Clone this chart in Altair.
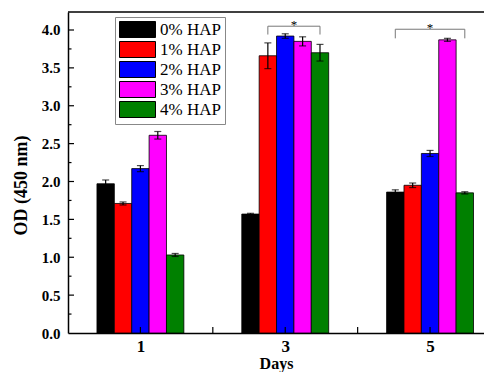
import altair as alt
import pandas as pd

# ---- data ----
days = [1, 3, 5]
groups = ["0% HAP", "1% HAP", "2% HAP", "3% HAP", "4% HAP"]
colors = ["#000000", "#ff0000", "#0000ff", "#ff00ff", "#008000"]

od_day1 = [1.97, 1.71, 2.17, 2.61, 1.03]
od_day3 = [1.57, 3.66, 3.92, 3.85, 3.70]
od_day5 = [1.86, 1.95, 2.37, 3.87, 1.85]

err_day1 = [0.05, 0.02, 0.04, 0.05, 0.02]
err_day3 = [0.01, 0.17, 0.03, 0.06, 0.11]
err_day5 = [0.03, 0.03, 0.04, 0.02, 0.015]

# significance brackets (x from bar centre to bar centre)
sig_x1 = [2.76, 4.52]
sig_x2 = [3.48, 5.48]
sig_top = [4.05, 4.01]
sig_leg = [3.94, 3.89]
sig_star = [4.145, 4.11]

y_labels = [0.0, 0.5, 1.0, 1.5, 2.0, 2.5, 3.0, 3.5, 4.0]
y_major_ticks = [0.5, 1.0, 1.5, 2.0, 2.5, 3.0, 3.5, 4.0]
y_minor_ticks = [0.25, 0.75, 1.25, 1.75, 2.25, 2.75, 3.25, 3.75]
x_ticks = [1, 2, 3, 4, 5]

BAR_W = 0.24

rows = []
for d, means, errs in zip(days, [od_day1, od_day3, od_day5], [err_day1, err_day3, err_day5]):
    for i, (g, m, e) in enumerate(zip(groups, means, errs)):
        rows.append({"day": d, "group": g, "idx": i, "od": m, "err": e})
df = pd.DataFrame(rows)

sig_df = pd.DataFrame({"x1": sig_x1, "x2": sig_x2, "top": sig_top, "leg": sig_leg, "star": sig_star})

FONT = "Liberation Serif"
W, H = 416, 321

xscale = alt.Scale(domain=[0, 5.745], nice=False, zero=False)
yscale = alt.Scale(domain=[0, 4.2376], nice=False, zero=True)

xaxis = alt.Axis(values=[1, 3, 5], format="d", title="Days", grid=False, ticks=False,
                 domainColor="black", domainWidth=1.5,
                 labelFont=FONT, labelFontSize=17, labelFontWeight="bold", labelColor="black",
                 labelPadding=5,
                 titleFont=FONT, titleFontSize=16, titleFontWeight="bold", titleColor="black",
                 titleY=35, titleBaseline="alphabetic")
yaxis = alt.Axis(values=y_labels, format=".1f", title="OD (450 nm)", grid=False, ticks=False,
                 domainColor="black", domainWidth=1.5,
                 labelFont=FONT, labelFontSize=15, labelFontWeight="bold", labelColor="black",
                 labelPadding=8,
                 titleFont=FONT, titleFontSize=18, titleFontWeight="bold", titleColor="black",
                 titleX=-42, titleY=173, titleAngle=-90, titleAlign="center",
                 titleBaseline="alphabetic")


def X(field):
    return alt.X(field, type="quantitative", scale=xscale, axis=xaxis)


def Y(field):
    return alt.Y(field, type="quantitative", scale=yscale, axis=yaxis)


base = alt.Chart(df).transform_calculate(
    xc=f"datum.day + (datum.idx - 2) * {BAR_W}",
).transform_calculate(
    x0=f"datum.xc - {BAR_W / 2}",
    x1=f"datum.xc + {BAR_W / 2}",
    lo="datum.od - datum.err",
    hi="datum.od + datum.err",
)

legend = alt.Legend(
    title=None, orient="none", legendX=47, legendY=5,
    symbolType="M-1,-1L3.5,-1L3.5,1L-1,1Z", symbolSize=256,
    symbolStrokeColor="black", symbolStrokeWidth=1, symbolOpacity=1,
    labelFont=FONT, labelFontSize=17, labelColor="black", labelOffset=24,
    rowPadding=-1, padding=4, strokeColor="#888888", fillColor="white",
)

bars = base.mark_bar(stroke="black", strokeWidth=0.8, opacity=1).encode(
    x=X("x0"), x2="x1:Q", y=Y("od"), y2=alt.datum(0),
    color=alt.Color("group:N", scale=alt.Scale(domain=groups, range=colors), legend=legend),
)

err_rule = base.mark_rule(color="black", strokeWidth=1.2).encode(
    x=X("xc"), y=Y("lo"), y2="hi:Q")
cap_hi = base.mark_tick(color="black", orient="horizontal", size=7, thickness=1.2).encode(
    x=X("xc"), y=Y("hi"))
cap_lo = base.mark_tick(color="black", orient="horizontal", size=7, thickness=1.2).encode(
    x=X("xc"), y=Y("lo"))

sig_base = alt.Chart(sig_df)
sig_h = sig_base.mark_rule(color="#777777", strokeWidth=1).encode(x=X("x1"), x2="x2:Q", y=Y("top"))
sig_l = sig_base.mark_rule(color="#777777", strokeWidth=1).encode(x=X("x1"), y=Y("leg"), y2="top:Q")
sig_r = sig_base.mark_rule(color="#777777", strokeWidth=1).encode(x=X("x2"), y=Y("leg"), y2="top:Q")
sig_t = sig_base.mark_text(text="*", font=FONT, fontSize=13, color="black", dy=6).encode(
    x=alt.X("xm:Q", scale=xscale, axis=xaxis), y=Y("star")
).transform_calculate(xm="(datum.x1 + datum.x2) / 2")

ymaj = alt.Chart(pd.DataFrame({"v": y_major_ticks})).mark_rule(color="black", strokeWidth=1.2).encode(
    y=Y("v"), x=alt.value(0), x2=alt.value(6))
ymin = alt.Chart(pd.DataFrame({"v": y_minor_ticks})).mark_rule(color="black", strokeWidth=1.2).encode(
    y=Y("v"), x=alt.value(0), x2=alt.value(3.5))
xt = alt.Chart(pd.DataFrame({"v": x_ticks})).mark_rule(color="black", strokeWidth=1.2).encode(
    x=X("v"), y=alt.value(H), y2=alt.value(H - 6))
top_line = alt.Chart(alt.Data(values=[{}])).mark_rule(color="black", strokeWidth=1.5).encode(
    y=alt.value(0), x=alt.value(0), x2=alt.value(W))

chart = alt.layer(
    bars, err_rule, cap_hi, cap_lo, sig_h, sig_l, sig_r, sig_t, ymaj, ymin, xt, top_line
).properties(
    width=W, height=H,
    autosize=alt.AutoSizeParams(type="none"),
    padding={"left": 60, "top": 4, "right": 0, "bottom": 39},
    background="white",
).configure_view(stroke=None)

chart.save("out.html", embed_options={"renderer": "svg", "actions": False})
